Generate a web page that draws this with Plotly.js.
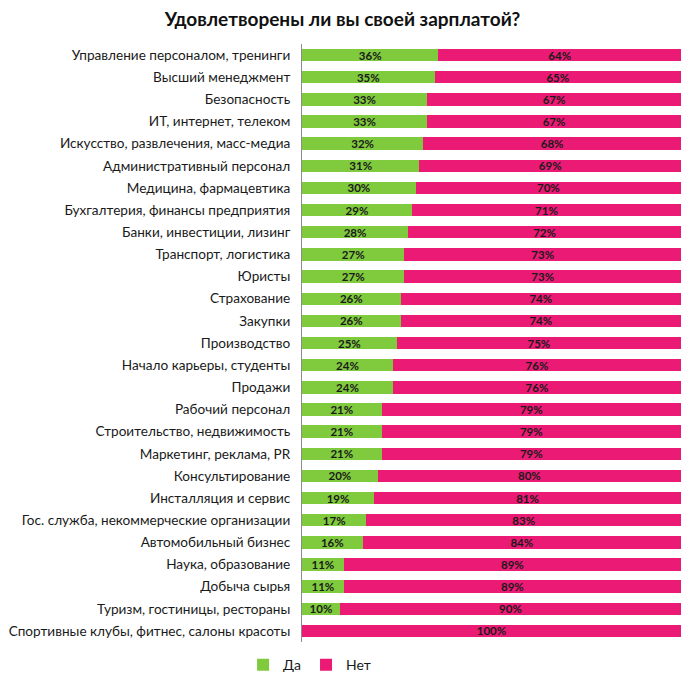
<!DOCTYPE html>
<html><head><meta charset="utf-8">
<script src="https://cdn.plot.ly/plotly-3.0.1.min.js"></script>
<style>body{margin:0;background:#fff}#c{width:685px;height:684px}</style>
</head><body><div id="c"></div>
<script>
const categories = [
  "Управление персоналом, тренинги",
  "Высший менеджмент",
  "Безопасность",
  "ИТ, интернет, телеком",
  "Искусство, развлечения, масс-медиа",
  "Административный персонал",
  "Медицина, фармацевтика",
  "Бухгалтерия, финансы предприятия",
  "Банки, инвестиции, лизинг",
  "Транспорт, логистика",
  "Юристы",
  "Страхование",
  "Закупки",
  "Производство",
  "Начало карьеры, студенты",
  "Продажи",
  "Рабочий персонал",
  "Строительство, недвижимость",
  "Маркетинг, реклама, PR",
  "Консультирование",
  "Инсталляция и сервис",
  "Гос. служба, некоммерческие организации",
  "Автомобильный бизнес",
  "Наука, образование",
  "Добыча сырья",
  "Туризм, гостиницы, рестораны",
  "Спортивные клубы, фитнес, салоны красоты"
];
const yesValues = [36,35,33,33,32,31,30,29,28,27,27,26,26,25,24,24,21,21,21,20,19,17,16,11,11,10,0];
const noValues  = [64,65,67,67,68,69,70,71,72,73,73,74,74,75,76,76,79,79,79,80,81,83,84,89,89,90,100];
const seriesNames = ["Да","Нет"];

const lbl = v => v > 0 ? v + "%" : "";
const textFont = {family:"Lato, 'Open Sans', sans-serif", size:11.5, color:"#1a1a1a", weight:"bold"};
const traces = [
  {type:"bar", orientation:"h", name:seriesNames[0], y:categories, x:yesValues,
   marker:{color:"#80CA3E"}, text:yesValues.map(lbl), textposition:"inside",
   insidetextanchor:"middle", textfont:textFont, hoverinfo:"x+y", constraintext:"none"},
  {type:"bar", orientation:"h", name:seriesNames[1], y:categories, x:noValues,
   marker:{color:"#EB1A74"}, text:noValues.map(lbl), textposition:"inside",
   insidetextanchor:"middle", textfont:textFont, hoverinfo:"x+y", constraintext:"none"}
];
const layout = {
  width:685, height:684,
  margin:{l:302, r:4, t:44, b:42, autoexpand:false},
  paper_bgcolor:"#fff", plot_bgcolor:"#fff",
  barmode:"stack", bargap:0.44,
  title:{text:"Удовлетворены ли вы своей зарплатой?", x:0.5, xanchor:"center", y:0.972, yanchor:"middle",
         font:{family:"Lato, 'Open Sans', sans-serif", size:19, color:"#111", weight:"bold"}},
  xaxis:{range:[0,100], visible:false, fixedrange:true},
  yaxis:{autorange:"reversed", showline:true, linecolor:"#8c8c8c", linewidth:1, automargin:false,
         ticks:"", ticklen:0, showgrid:false, zeroline:false,
         tickfont:{family:"Lato, 'Open Sans', sans-serif", size:13.6, color:"#1a1a1a"}, ticklabelstandoff:8},
  showlegend:true,
  legend:{orientation:"h", x:0.02, xanchor:"center", y:-0.012, yanchor:"top",
          font:{family:"Lato, 'Open Sans', sans-serif", size:14, color:"#1a1a1a"},
          itemwidth:30, traceorder:"normal"},
  uniformtext:{mode:false}
};
Plotly.newPlot("c", traces, layout, {displayModeBar:false, staticPlot:true});
</script></body></html>
